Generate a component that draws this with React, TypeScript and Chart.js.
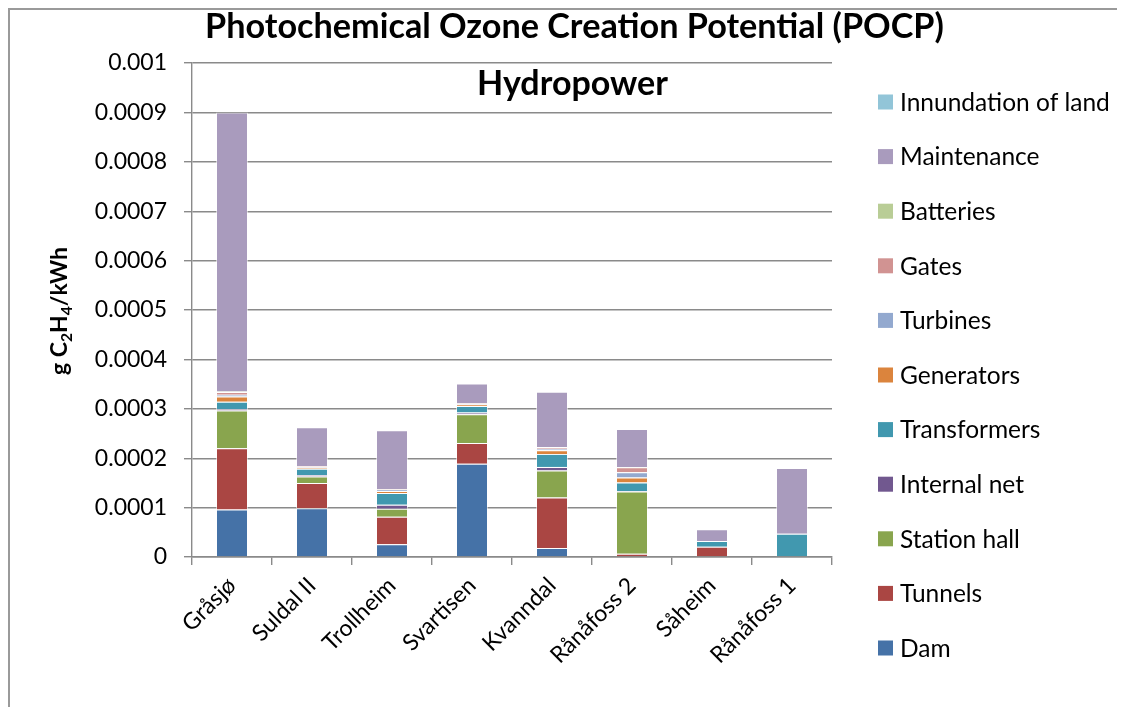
import { useEffect, useRef } from "react";
import { Chart, registerables } from "chart.js";

Chart.register(...registerables);

// Power stations (x categories)
const stations = ["Gråsjø", "Suldal II", "Trollheim", "Svartisen", "Kvanndal", "Rånåfoss 2", "Såheim", "Rånåfoss 1"];

// POCP contributions per component, g C2H4/kWh
const dam = [0.000096, 0.0000986, 0.0000257, 0.000189, 0.0000182, 0, 0, 0];
const tunnels = [0.000124, 0.000051, 0.000056, 0.0000419, 0.000102, 0.0000068, 0.000021, 0];
const stationHall = [0.0000764, 0.0000135, 0.0000162, 0.0000581, 0.0000547, 0.000126, 0, 0];
const internalNet = [0.000003, 0.0000027, 0.0000081, 0.0000034, 0.0000074, 0.000001, 0, 0];
const transformers = [0.0000149, 0.0000128, 0.0000236, 0.0000135, 0.0000264, 0.0000169, 0.0000115, 0.0000473];
const generators = [0.0000108, 0.000002, 0.000004, 0.0000027, 0.0000074, 0.0000101, 0, 0];
const turbines = [0.0000034, 0.000001, 0.0000027, 0.000001, 0.000003, 0.0000108, 0, 0];
const gates = [0.0000054, 0.000002, 0.000001, 0.000001, 0.000003, 0.0000101, 0, 0];
const batteries = [0.000001, 0.0000005, 0.0000005, 0.0000005, 0.0000005, 0.0000005, 0, 0];
const maintenance = [0.000565, 0.0000784, 0.000119, 0.0000399, 0.000112, 0.000077, 0.0000236, 0.000133];
const innundation = [0, 0, 0, 0, 0, 0, 0, 0];

const seriesNames = [
  "Dam", "Tunnels", "Station hall", "Internal net", "Transformers", "Generators",
  "Turbines", "Gates", "Batteries", "Maintenance", "Innundation of land",
];
const seriesValues = [
  dam, tunnels, stationHall, internalNet, transformers, generators,
  turbines, gates, batteries, maintenance, innundation,
];
const seriesColors = [
  "#4572A7", "#AA4643", "#89A54E", "#71588F", "#4198AF", "#DB843D",
  "#93A9CF", "#D19392", "#B9CD96", "#A99BBD", "#92C5D8",
];

const titleLines = ["Photochemical Ozone Creation Potential (POCP)", "Hydropower"];
const yMin = 0;
const yMax = 0.001;
const yStep = 0.0001;

const FAMILY = "Lato, 'Open Sans', sans-serif";
const GRID = "#8a8a8a";

// font size that makes a string span the given width
function fitSize(ctx: CanvasRenderingContext2D, text: string, weight: string, width: number) {
  ctx.font = `${weight} 100px ${FAMILY}`;
  return (100 * width) / ctx.measureText(text).width;
}

const decorations = {
  id: "decorations",
  afterDraw(chart: Chart) {
    const ctx = chart.ctx;
    ctx.save();
    ctx.fillStyle = "#000";

    // title
    ctx.textAlign = "center";
    ctx.textBaseline = "alphabetic";
    const s1 = fitSize(ctx, titleLines[0], "bold", 739);
    ctx.font = `bold ${s1}px ${FAMILY}`;
    ctx.fillText(titleLines[0], 564.5, 28);
    const s2 = fitSize(ctx, titleLines[1], "bold", 191);
    ctx.font = `bold ${s2}px ${FAMILY}`;
    ctx.fillText(titleLines[1], 562.5, 85);

    // y axis title with subscripts, scaled to its full length
    const parts: [string, boolean][] = [["g C", false], ["2", true], ["H", false], ["4", true], ["/kWh", false]];
    const measure = (m: number) =>
      parts.map(([t, isSub]) => {
        ctx.font = `bold ${isSub ? m * 0.68 : m}px ${FAMILY}`;
        return ctx.measureText(t).width;
      });
    const base = measure(20).reduce((a, b) => a + b, 0);
    const main = (20 * 128) / base;
    const sub = main * 0.68;
    const widths = measure(main);
    const total = widths.reduce((a, b) => a + b, 0);
    ctx.translate(57, 301);
    ctx.rotate(-Math.PI / 2);
    ctx.textAlign = "left";
    let x = -total / 2;
    parts.forEach(([t, isSub], i) => {
      ctx.font = `bold ${isSub ? sub : main}px ${FAMILY}`;
      ctx.fillText(t, x, isSub ? main * 0.22 : 0);
      x += widths[i];
    });
    ctx.restore();

    // legend, top entry is the last series
    ctx.save();
    const ls = fitSize(ctx, "Innundation of land", "normal", 210);
    ctx.font = `${ls}px ${FAMILY}`;
    ctx.textAlign = "left";
    ctx.textBaseline = "middle";
    const ds = chart.data.datasets;
    for (let i = 0; i < ds.length; i++) {
      const d = ds[ds.length - 1 - i];
      const cy = 92 + i * 54.6;
      ctx.fillStyle = d.backgroundColor as string;
      ctx.fillRect(868, cy - 7.5, 15, 15);
      ctx.fillStyle = "#000";
      ctx.fillText(d.label as string, 890, cy + 1);
    }
    ctx.restore();
  },
};

export default function App() {
  const canvasRef = useRef<HTMLCanvasElement | null>(null);

  useEffect(() => {
    document.documentElement.style.overflow = "hidden";
    document.body.style.overflow = "hidden";
    if (!canvasRef.current) return;
    const chart = new Chart(canvasRef.current, {
      type: "bar",
      data: {
        labels: stations,
        datasets: seriesNames.map((name, i) => ({
          label: name,
          data: seriesValues[i],
          backgroundColor: seriesColors[i],
          borderColor: "rgba(255,255,255,0.55)",
          borderWidth: 1,
          categoryPercentage: 1,
          barPercentage: 0.4,
        })),
      },
      options: {
        responsive: false,
        animation: false,
        layout: { padding: { top: 53, right: 285, bottom: 0, left: 0 } },
        plugins: {
          legend: { display: false },
          title: { display: false },
          tooltip: { enabled: false },
        },
        scales: {
          x: {
            stacked: true,
            afterFit: (scale: any) => {
              scale.height = 141;
            },
            grid: {
              display: true,
              drawOnChartArea: false,
              offset: true,
              tickLength: 8,
              color: GRID,
              lineWidth: 1.4,
            },
            border: { color: GRID, width: 1.4 },
            ticks: {
              minRotation: 45,
              maxRotation: 45,
              autoSkip: false,
              padding: 7,
              color: "#000",
              font: { family: FAMILY, size: 23 },
            },
          },
          y: {
            stacked: true,
            min: yMin,
            max: yMax,
            afterFit: (scale: any) => {
              scale.width = 182;
            },
            grid: {
              color: GRID,
              lineWidth: 1.4,
              tickLength: 8,
            },
            border: { color: GRID, width: 1.4 },
            ticks: {
              stepSize: yStep,
              padding: 17,
              color: "#000",
              font: { family: FAMILY, size: 23 },
              callback: (v: any) => String(Number(Number(v).toFixed(4))),
            },
          },
        },
      },
      plugins: [decorations],
    });
    return () => chart.destroy();
  }, []);

  return (
    <div style={{ width: 1117, height: 710, borderTop: "2px solid #9a9a9a", borderLeft: "2px solid #9a9a9a" }}>
      <canvas ref={canvasRef} width={1107} height={688} style={{ display: "block" }} />
    </div>
  );
}
